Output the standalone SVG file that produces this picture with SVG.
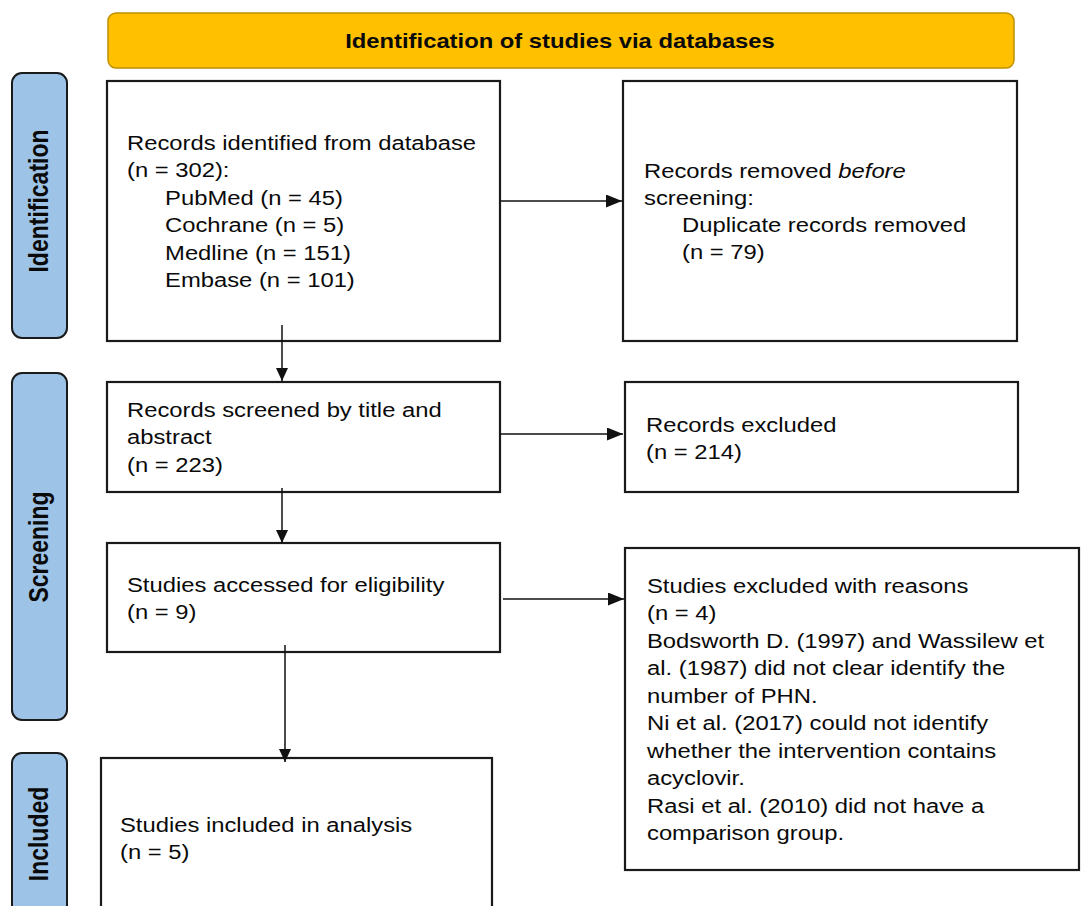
<svg xmlns="http://www.w3.org/2000/svg" width="1081" height="906" viewBox="0 0 1081 906">
<style>
.box{fill:#fff;stroke:#1a1a1a;stroke-width:2.2}
.bar{fill:#9dc3e6;stroke:#1a1a1a;stroke-width:2}
.banner{fill:#ffc000;stroke:#bf9000;stroke-width:1.5}
.t{font-family:"Liberation Sans",Arial,sans-serif;font-size:20px;fill:#0a0a0a}
.lbl{font-family:"Liberation Sans",Arial,sans-serif;font-size:23px;font-weight:bold;fill:#0a0a0a;text-anchor:middle}
.ttl{font-family:"Liberation Sans",Arial,sans-serif;font-size:19.5px;font-weight:bold;fill:#0a0a0a;text-anchor:middle}
.conn{stroke:#111;stroke-width:1.5;fill:none}
</style>
<defs>
<marker id="ah" markerUnits="userSpaceOnUse" markerWidth="16" markerHeight="13" refX="16" refY="6.5" orient="auto"><path d="M0,0 L16,6.5 L0,13 z" fill="#111"/></marker>
<marker id="av" markerUnits="userSpaceOnUse" markerWidth="13" markerHeight="12" refX="13" refY="6" orient="auto"><path d="M0,0 L13,6 L0,12 z" fill="#111"/></marker>
</defs>

<g id="banner">
<rect class="banner" x="108" y="13" width="906" height="55" rx="8"/>
<text class="ttl" transform="translate(560 48) scale(1.22 1)">Identification of studies via databases</text>
</g>

<g id="phase-identification">
<rect class="bar" x="12" y="73" width="55" height="265" rx="10"/>
<text class="lbl" transform="translate(48 201) rotate(-90) scale(1 1.2)">Identification</text>
</g>
<g id="phase-screening">
<rect class="bar" x="12" y="373" width="55" height="347" rx="10"/>
<text class="lbl" transform="translate(48 547) rotate(-90) scale(1 1.2)">Screening</text>
</g>
<g id="phase-included">
<rect class="bar" x="12" y="753" width="55" height="180" rx="10"/>
<text class="lbl" transform="translate(48 834) rotate(-90) scale(1 1.2)">Included</text>
</g>

<g id="records-identified">
<rect class="box" x="107" y="81" width="393" height="260"/>
<text class="t" transform="translate(127 150) scale(1.19 1)"><tspan x="0" y="0">Records identified from database</tspan><tspan x="0" y="27.4">(n = 302):</tspan><tspan x="32" y="54.8">PubMed (n = 45)</tspan><tspan x="32" y="82.2">Cochrane (n = 5)</tspan><tspan x="32" y="109.6">Medline (n = 151)</tspan><tspan x="32" y="137">Embase (n = 101)</tspan></text>
</g>

<g id="records-removed">
<rect class="box" x="623" y="81" width="394" height="260"/>
<text class="t" transform="translate(644 178) scale(1.19 1)"><tspan x="0" y="0">Records removed <tspan font-style="italic">before</tspan></tspan><tspan x="0" y="27">screening:</tspan><tspan x="32" y="54">Duplicate records removed</tspan><tspan x="32" y="81">(n = 79)</tspan></text>
</g>

<g id="records-screened">
<rect class="box" x="107" y="382" width="393" height="110"/>
<text class="t" transform="translate(127 417) scale(1.19 1)"><tspan x="0" y="0">Records screened by title and</tspan><tspan x="0" y="27.5">abstract</tspan><tspan x="0" y="55">(n = 223)</tspan></text>
</g>

<g id="records-excluded">
<rect class="box" x="625" y="382" width="393" height="110"/>
<text class="t" transform="translate(646 432) scale(1.19 1)"><tspan x="0" y="0">Records excluded</tspan><tspan x="0" y="27.5">(n = 214)</tspan></text>
</g>

<g id="studies-assessed">
<rect class="box" x="107" y="543" width="393" height="109"/>
<text class="t" transform="translate(127 592) scale(1.19 1)"><tspan x="0" y="0">Studies accessed for eligibility</tspan><tspan x="0" y="27.5">(n = 9)</tspan></text>
</g>

<g id="studies-excluded">
<rect class="box" x="625" y="548" width="454" height="322"/>
<text class="t" transform="translate(647 593) scale(1.19 1)"><tspan x="0" y="0">Studies excluded with reasons</tspan><tspan x="0" y="27.5">(n = 4)</tspan><tspan x="0" y="55">Bodsworth D. (1997) and Wassilew et</tspan><tspan x="0" y="82.5">al. (1987) did not clear identify the</tspan><tspan x="0" y="110">number of PHN.</tspan><tspan x="0" y="137.5">Ni et al. (2017) could not identify</tspan><tspan x="0" y="165">whether the intervention contains</tspan><tspan x="0" y="192.5">acyclovir.</tspan><tspan x="0" y="220">Rasi et al. (2010) did not have a</tspan><tspan x="0" y="247.5">comparison group.</tspan></text>
</g>

<g id="studies-included">
<rect class="box" x="101" y="758" width="391" height="170"/>
<text class="t" transform="translate(120 832) scale(1.19 1)"><tspan x="0" y="0">Studies included in analysis</tspan><tspan x="0" y="27.5">(n = 5)</tspan></text>
</g>

<g id="connectors">
<path class="conn" d="M500,201 H622" marker-end="url(#ah)"/>
<path class="conn" d="M282,325 V381" marker-end="url(#av)"/>
<path class="conn" d="M500,434 H623" marker-end="url(#ah)"/>
<path class="conn" d="M282,488 V543" marker-end="url(#av)"/>
<path class="conn" d="M503,599 H624" marker-end="url(#ah)"/>
<path class="conn" d="M285,645 V762" marker-end="url(#av)"/>
</g>
</svg>
